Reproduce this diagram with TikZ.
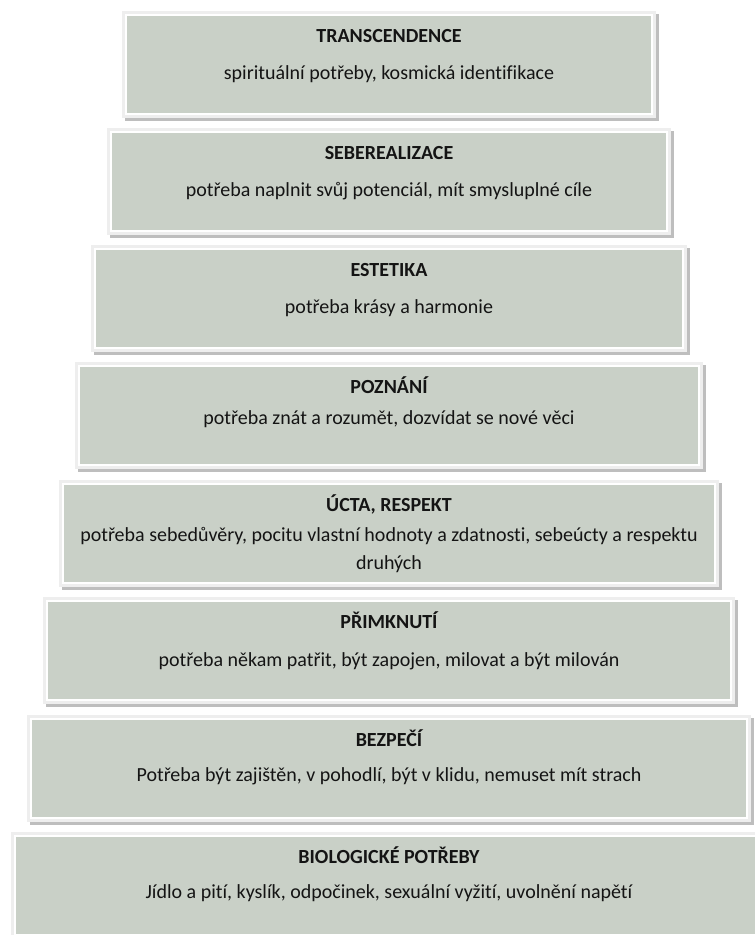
\documentclass[tikz,border=0pt]{standalone}
\usepackage{fontspec}
\setmainfont{Carlito}[RawFeature={-liga}]
\usepackage{tikz}
\usetikzlibrary{positioning}
\definecolor{levelFillCol}{RGB}{201, 208, 199}
\definecolor{levelFrameCol}{RGB}{238, 238, 238}
\definecolor{levelShadowCol}{RGB}{190, 190, 190}
\definecolor{levelTextCol}{RGB}{20, 20, 20}
\tikzset{myLevelShadow/.style={fill=levelShadowCol}}
\tikzset{myLevelFrame/.style={fill=levelFrameCol}}
\tikzset{myLevelEdge/.style={draw=white, line width=1.5bp}}
\tikzset{myLevelFill/.style={fill=levelFillCol}}
\tikzset{myTitle/.style={anchor=base, inner sep=0pt, text=levelTextCol, font=\fontsize{20bp}{28bp}\selectfont\bfseries}}
\tikzset{myBody/.style={anchor=base, inner sep=0pt, text=levelTextCol, align=center, font=\fontsize{20bp}{28bp}\selectfont}}
% #1 name, #2 left, #3 top, #4 title, #5 text, #6 text baseline (last line)
\newcommand{\myLevel}[6]{%
	\fill[myLevelShadow]({#2-2},{#3-2}) rectangle ({786-#2},{#3+105});
	\fill[myLevelFrame]({#2-5},{#3-5}) rectangle ({783-#2},{#3+102});
	\draw[myLevelEdge]({#2-1},{#3-1}) rectangle ({779-#2},{#3+98});
	\fill[myLevelFill](#2,#3) rectangle ({778-#2},{#3+97});
	\node[myTitle](#1Title) at (389,{#3+26}) {#4};
	\node[myBody](#1Text) at (389,{#3+#6}) {#5};
}

\begin{document}
\begin{tikzpicture}[x=1bp,y=-1bp]
	\useasboundingbox (0,0) rectangle (755,935);
	\clip (0,0) rectangle (755,935);
	%\draw[red] (389,0)--(389,935);
	\myLevel{transc}{127}{16}{TRANSCENDENCE}{spirituální potřeby, kosmická identifikace}{63}
	\myLevel{seber}{112}{133}{SEBEREALIZACE}{potřeba naplnit svůj potenciál, mít smysluplné cíle}{63}
	\myLevel{estet}{96}{250}{ESTETIKA}{potřeba krásy a harmonie}{63}
	\myLevel{pozn}{80}{367}{POZNÁNÍ}{potřeba znát a rozumět, dozvídat se nové věci}{57}
	\myLevel{ucta}{64}{485}{ÚCTA, RESPEKT}{potřeba sebedůvěry, pocitu vlastní hodnoty a zdatnosti, sebeúcty a respektu\\ druhých}{84}
	\myLevel{primk}{48}{602}{PŘIMKNUTÍ}{potřeba někam patřit, být zapojen, milovat a být milován}{64}
	\myLevel{bezp}{32}{720}{BEZPEČÍ}{Potřeba být zajištěn, v pohodlí, být v klidu, nemuset mít strach}{61}
	\myLevel{biol}{16}{837}{BIOLOGICKÉ POTŘEBY}{Jídlo a pití, kyslík, odpočinek, sexuální vyžití, uvolnění napětí}{61}
\end{tikzpicture}
\end{document}
